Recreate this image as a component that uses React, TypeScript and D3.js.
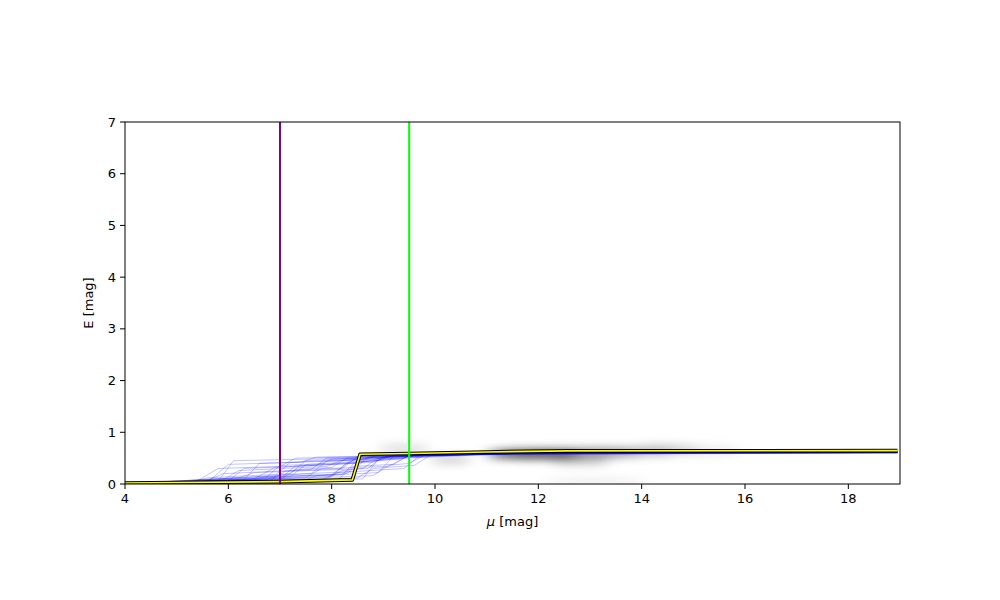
import * as d3 from 'd3';

// x ticks and y ticks
const xTicks = [4, 6, 8, 10, 12, 14, 16, 18];
const yTicks = [0, 1, 2, 3, 4, 5, 6, 7];

// vertical markers
const markerMu = [7, 9.5];
const markerColors = ['#800080', '#00ff00'];

// best-fit reddening profile [mu, E]
const bestFit: [number, number][] = [
  [4, 0.02], [7, 0.045], [8.4, 0.08], [8.55, 0.575], [9.5, 0.59],
  [11, 0.62], [12.6, 0.64], [18.95, 0.645],
];

// posterior samples [mu, E]
const samples: [number, number][][] = [
  [[4, 0], [5.8, 0.05], [6.1, 0.45], [8.4, 0.5], [8.7, 0.56], [11, 0.59], [12.5, 0.61], [18.95, 0.61]],
  [[4, 0], [6.3, 0.08], [6.6, 0.4], [8.6, 0.46], [8.9, 0.55], [11.5, 0.6], [18.95, 0.62]],
  [[4, 0.01], [7, 0.1], [7.3, 0.35], [8.5, 0.4], [9.2, 0.56], [12, 0.6], [18.95, 0.61]],
  [[4, 0], [5.5, 0.03], [5.9, 0.2], [7.6, 0.28], [7.9, 0.5], [9.5, 0.55], [12, 0.61], [18.95, 0.62]],
  [[4, 0], [7.5, 0.12], [7.8, 0.3], [9.1, 0.34], [9.5, 0.55], [11, 0.58], [13, 0.61], [18.95, 0.61]],
  [[4, 0.02], [6.8, 0.06], [7.1, 0.25], [8.2, 0.3], [8.5, 0.53], [10, 0.56], [12, 0.6], [18.95, 0.62]],
  [[4, 0], [8, 0.15], [8.3, 0.42], [9.3, 0.48], [9.6, 0.56], [12, 0.6], [18.95, 0.6]],
  [[4, 0], [6.5, 0.1], [6.9, 0.32], [8.8, 0.42], [9.1, 0.54], [11.5, 0.6], [18.95, 0.61]],
  [[4, 0], [5.2, 0.02], [5.6, 0.12], [7.2, 0.2], [7.5, 0.45], [9, 0.52], [12, 0.61], [18.95, 0.62]],
  [[4, 0.01], [8.3, 0.2], [8.6, 0.5], [10, 0.55], [12.5, 0.6], [18.95, 0.61]],
  [[4, 0], [7.8, 0.08], [8.1, 0.22], [9.4, 0.3], [9.7, 0.55], [12, 0.6], [18.95, 0.62]],
  [[4, 0], [6, 0.06], [6.3, 0.3], [7.7, 0.36], [8.0, 0.48], [9.8, 0.55], [13, 0.61], [18.95, 0.61]],
  [[4, 0], [7.2, 0.14], [7.5, 0.38], [8.9, 0.45], [9.2, 0.55], [12, 0.61], [18.95, 0.62]],
  [[4, 0.02], [8.6, 0.1], [8.9, 0.48], [10.5, 0.56], [12, 0.6], [18.95, 0.6]],
  [[4, 0], [6.6, 0.04], [7.0, 0.18], [8.4, 0.24], [8.7, 0.52], [11, 0.58], [18.95, 0.62]],
  [[4, 0], [5.6, 0.04], [6.0, 0.38], [7.4, 0.42], [7.7, 0.52], [10, 0.56], [12, 0.6], [18.95, 0.61]],
  [[4, 0], [8.8, 0.16], [9.1, 0.36], [9.5, 0.4], [9.8, 0.56], [12, 0.61], [18.95, 0.62]],
  [[4, 0], [7, 0.08], [7.3, 0.28], [8, 0.32], [8.3, 0.5], [10.5, 0.57], [18.95, 0.61]],
  [[4, 0.01], [6.2, 0.12], [6.5, 0.22], [8.7, 0.3], [9.0, 0.53], [11, 0.59], [18.95, 0.62]],
  [[4, 0], [7.6, 0.2], [7.9, 0.44], [9.0, 0.5], [9.3, 0.57], [12, 0.6], [18.95, 0.6]],
  [[4, 0], [5.9, 0.08], [6.2, 0.26], [7.9, 0.34], [8.2, 0.46], [9.6, 0.54], [12, 0.6], [18.95, 0.61]],
  [[4, 0], [8.1, 0.06], [8.4, 0.34], [9.2, 0.38], [9.5, 0.56], [12.5, 0.61], [18.95, 0.62]],
  [[4, 0], [6.9, 0.16], [7.2, 0.42], [8.6, 0.48], [8.9, 0.56], [12, 0.6], [18.95, 0.61]],
  [[4, 0], [7.4, 0.04], [7.7, 0.16], [8.9, 0.22], [9.2, 0.54], [11, 0.58], [18.95, 0.6]],
  [[4, 0.02], [6.4, 0.05], [6.7, 0.14], [8.0, 0.18], [8.3, 0.4], [9.4, 0.5], [12, 0.61], [18.95, 0.62]],
  [[4, 0], [8.5, 0.12], [8.8, 0.3], [9.6, 0.36], [9.9, 0.55], [12, 0.6], [18.95, 0.61]],
  [[4, 0], [5.4, 0.06], [5.8, 0.3], [7.0, 0.34], [7.3, 0.5], [10, 0.56], [18.95, 0.61]],
  [[4, 0], [7.9, 0.1], [8.2, 0.26], [8.6, 0.3], [8.9, 0.5], [10.5, 0.56], [12, 0.61], [18.95, 0.62]],
  [[4, 0], [6.7, 0.1], [7.0, 0.36], [8.3, 0.4], [8.6, 0.55], [11, 0.59], [18.95, 0.61]],
  [[4, 0], [8.2, 0.18], [8.5, 0.46], [9.3, 0.5], [9.6, 0.57], [12, 0.6], [18.95, 0.61]],
];

// stellar density blobs (background)
const blobMu = [11.9, 12.5, 13.6, 14.5, 10.3, 9.4, 12.8, 13.1, 15.3];
const blobE = [0.57, 0.6, 0.62, 0.68, 0.47, 0.68, 0.45, 0.04, 0.64];
const blobWidth = [0.9, 1.5, 1.1, 0.6, 0.4, 0.5, 0.6, 1.0, 0.6];
const blobHeight = [0.07, 0.08, 0.08, 0.08, 0.06, 0.08, 0.06, 0.05, 0.1];
const blobAlpha = [0.85, 0.4, 0.25, 0.18, 0.25, 0.15, 0.3, 0.1, 0.08];

const W = 1000;
const H = 600;
const margin = { top: 122, right: 100, bottom: 116, left: 125 };
const innerW = W - margin.left - margin.right;
const innerH = H - margin.top - margin.bottom;
const font = 'DejaVu Sans, sans-serif';

export default function App() {
  const x = d3.scaleLinear().domain([4, 19]).range([0, innerW]);
  const y = d3.scaleLinear().domain([0, 7]).range([innerH, 0]);
  const line = d3
    .line<[number, number]>()
    .x((d) => x(d[0]))
    .y((d) => y(d[1]));

  return (
    <svg
      width={W}
      height={H}
      style={{ position: 'absolute', left: 0, top: 0, background: '#fff' }}
      fontFamily={font}
    >
      <defs>
        <clipPath id="plot-clip">
          <rect x={0} y={0} width={innerW} height={innerH} />
        </clipPath>
        <filter id="blur" x="-50%" y="-200%" width="200%" height="500%">
          <feGaussianBlur stdDeviation="7 5" />
        </filter>
      </defs>
      <g transform={`translate(${margin.left},${margin.top})`}>
        <g clipPath="url(#plot-clip)">
          <g filter="url(#blur)">
            {blobMu.map((m, i) => (
              <ellipse
                key={i}
                cx={x(m)}
                cy={y(blobE[i])}
                rx={x(4 + blobWidth[i]) - x(4)}
                ry={y(0) - y(blobHeight[i])}
                fill="#000"
                opacity={blobAlpha[i]}
              />
            ))}
          </g>
          {samples.map((s, i) => (
            <path
              key={i}
              d={line(s) ?? ''}
              fill="none"
              stroke="#0000ff"
              strokeOpacity={0.3}
              strokeWidth={0.8}
            />
          ))}
          <path d={line(bestFit) ?? ''} fill="none" stroke="#000" strokeWidth={3.6} strokeLinejoin="round" />
          <path d={line(bestFit) ?? ''} fill="none" stroke="#ffff00" strokeWidth={1.6} strokeLinejoin="round" />
          {markerMu.map((m, i) => (
            <line
              key={i}
              x1={x(m)}
              x2={x(m)}
              y1={0}
              y2={innerH}
              stroke={markerColors[i]}
              strokeWidth={2}
            />
          ))}
        </g>
        <rect x={0} y={0} width={innerW} height={innerH} fill="none" stroke="#000" strokeWidth={1} />
        {xTicks.map((t) => (
          <g key={t} transform={`translate(${x(t)},${innerH})`}>
            <line y1={0} y2={5} stroke="#000" strokeWidth={1} />
            <text y={19} textAnchor="middle" fontSize={13} fill="#000">
              {t}
            </text>
          </g>
        ))}
        {yTicks.map((t) => (
          <g key={t} transform={`translate(0,${y(t)})`}>
            <line x1={0} x2={-5} stroke="#000" strokeWidth={1} />
            <text x={-9} dy="0.35em" textAnchor="end" fontSize={13} fill="#000">
              {t}
            </text>
          </g>
        ))}
        <text x={innerW / 2} y={innerH + 42} textAnchor="middle" fontSize={13} fill="#000">
          <tspan fontStyle="italic">μ</tspan> [mag]
        </text>
        <text
          transform={`translate(${-32},${innerH / 2}) rotate(-90)`}
          textAnchor="middle"
          fontSize={13}
          fill="#000"
        >
          E [mag]
        </text>
      </g>
    </svg>
  );
}
